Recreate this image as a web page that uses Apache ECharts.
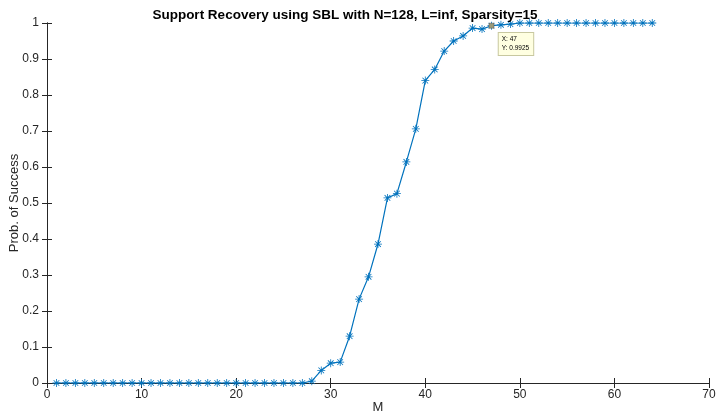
<!DOCTYPE html>
<html>
<head>
<meta charset="utf-8">
<script src="https://cdn.jsdelivr.net/npm/echarts@6/dist/echarts.min.js"></script>
<style>
  html, body { margin: 0; padding: 0; background: #fff; }
  #chart { width: 716px; height: 415px; }
</style>
</head>
<body>
<div id="chart"></div>
<script>
// measurement count M (x) and success probability (y)
const mValues = Array.from({ length: 64 }, (_, i) => i + 1);
const probSuccess = [
  0, 0, 0, 0, 0, 0, 0, 0, 0, 0,
  0, 0, 0, 0, 0, 0, 0, 0, 0, 0,
  0, 0, 0, 0, 0, 0, 0, 0.005, 0.035, 0.055,
  0.058, 0.13, 0.233, 0.295, 0.386, 0.514, 0.526, 0.614, 0.706, 0.84,
  0.871, 0.922, 0.95, 0.964, 0.986, 0.983, 0.9925, 0.995, 0.997, 1,
  1, 1, 1, 1, 1, 1, 1, 1, 1, 1,
  1, 1, 1, 1
];
const xTicks = [0, 10, 20, 30, 40, 50, 60, 70];
const dataTip = [47, 0.9925];

const blue = '#0072BD';
const axisGray = '#262626';
const font = 'Liberation Sans, Arial, Helvetica, sans-serif';

// matlab-like '*' marker: four thin bars through the centre
const starPath = 'path://M-1,-10L1,-10L1,10L-1,10Z' +
  'M-10,-1L10,-1L10,1L-10,1Z' +
  'M6.364,-7.778L7.778,-6.364L-6.364,7.778L-7.778,6.364Z' +
  'M-7.778,-6.364L-6.364,-7.778L7.778,6.364L6.364,7.778Z';

const chart = echarts.init(document.getElementById('chart'));

const boxAxis = (extra) => Object.assign({
  axisLine: { show: true, lineStyle: { color: axisGray, width: 1 } },
  axisTick: { show: true, inside: true, length: 5, lineStyle: { color: axisGray } },
  splitLine: { show: false }
}, extra);

chart.setOption({
  animation: false,
  title: {
    text: 'Support Recovery using SBL with N=128, L=inf, Sparsity=15',
    left: 340,
    top: 3,
    textAlign: 'center',
    textStyle: { fontFamily: font, fontWeight: 'bold', fontSize: 13.5, color: '#000' }
  },
  grid: { left: 47, right: 7, top: 23, bottom: 32, outerBoundsMode: 'none', containLabel: false },
  xAxis: [
    boxAxis({
      type: 'value', min: 0, max: 70, interval: 10,
      name: 'M', nameLocation: 'middle', nameGap: 18, nameMoveOverlap: false,
      nameTextStyle: { fontFamily: font, fontSize: 13, color: axisGray },
      axisLabel: {
        fontFamily: font, fontSize: 12, color: axisGray, margin: 6,
        formatter: (v) => xTicks.includes(v) ? String(v) : ''
      }
    }),
    boxAxis({
      type: 'value', min: 0, max: 70, interval: 10, position: 'top',
      axisLabel: { show: false }
    })
  ],
  yAxis: [
    boxAxis({
      type: 'value', min: 0, max: 1, interval: 0.1,
      name: 'Prob. of Success', nameLocation: 'middle', nameGap: 26, nameMoveOverlap: false,
      nameTextStyle: { fontFamily: font, fontSize: 13, color: axisGray },
      axisLabel: {
        fontFamily: font, fontSize: 12, color: axisGray, margin: 8,
        formatter: (v) => String(Math.round(v * 10) / 10)
      }
    }),
    boxAxis({
      type: 'value', min: 0, max: 1, interval: 0.1, position: 'right',
      axisLabel: { show: false }
    })
  ],
  series: [{
    type: 'line',
    data: mValues.map((m, i) => [m, probSuccess[i]]),
    symbol: starPath,
    symbolSize: 8,
    showAllSymbol: true,
    lineStyle: { color: blue, width: 1.2 },
    itemStyle: { color: blue },
    markPoint: {
      symbol: 'rect',
      symbolSize: 5,
      itemStyle: { color: '#9a9a7a', borderColor: '#555', borderWidth: 0.5 },
      data: [{
        coord: dataTip,
        label: {
          show: true,
          position: 'insideTopLeft',
          offset: [5, 5],
          formatter: 'X: ' + dataTip[0] + '\nY: ' + dataTip[1],
          fontFamily: font,
          fontSize: 6.5,
          lineHeight: 9,
          color: '#000',
          backgroundColor: '#ffffe1',
          borderColor: '#c8c8a0',
          borderWidth: 1,
          padding: [2, 4, 2, 3],
          align: 'left',
          verticalAlign: 'top'
        }
      }]
    }
  }]
});
</script>
</body>
</html>
